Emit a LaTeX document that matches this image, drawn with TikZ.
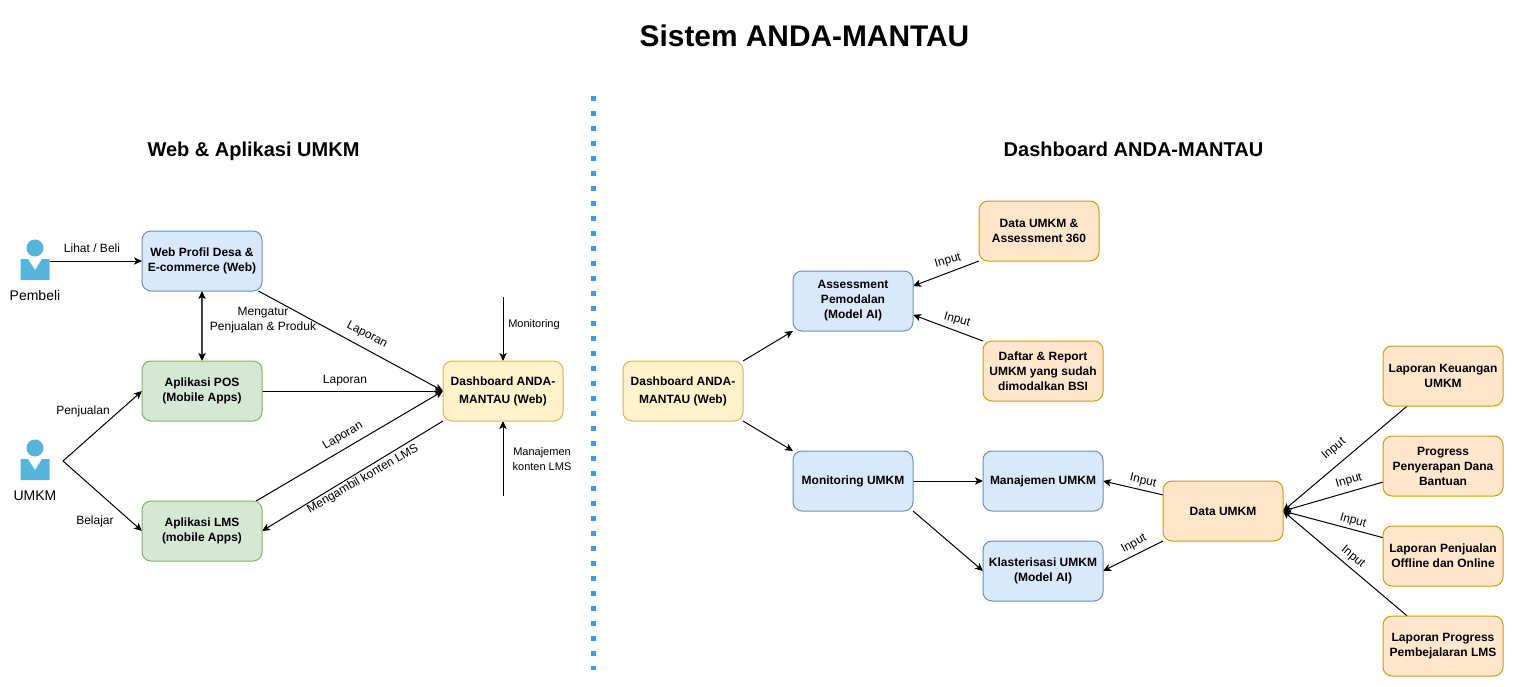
\documentclass[tikz,border=0pt]{standalone}
\usepackage{fontspec}
\setmainfont{Liberation Sans}
\usetikzlibrary{arrows.meta,backgrounds,positioning}

\definecolor{bluefill}{HTML}{DAE8FC}
\definecolor{blueline}{HTML}{6C8EBF}
\definecolor{greenfill}{HTML}{D5E8D4}
\definecolor{greenline}{HTML}{82B366}
\definecolor{yellowfill}{HTML}{FFF2CC}
\definecolor{yellowline}{HTML}{D6B656}
\definecolor{orangefill}{HTML}{FFE6CC}
\definecolor{orangeline}{HTML}{D79B00}
\definecolor{personblue}{HTML}{57B4DA}
\definecolor{dividerblue}{HTML}{3D97F0}

\tikzset{
    box/.style={rectangle, rounded corners=6.75pt, minimum width=90pt, minimum height=45pt,
        inner sep=0pt, outer sep=0pt, align=center, line width=.75pt,
        font=\fontsize{9}{11.25}\selectfont\bfseries},
    webbox/.style={box, draw=blueline, fill=bluefill},
    appbox/.style={box, draw=greenline, fill=greenfill},
    dashbox/.style={box, draw=yellowline, fill=yellowfill,
        execute at begin node=\rule{0pt}{8.8pt}},
    databox/.style={box, draw=orangeline, fill=orangefill},
    conn/.style={line width=.75pt, -{Stealth[length=6pt,width=5.5pt,inset=1.5pt]}},
    biconn/.style={line width=.9pt, black!75,
        {Stealth[length=6pt,width=5.5pt,inset=1.5pt,color=black]}-{Stealth[length=6pt,width=5.5pt,inset=1.5pt,color=black]}},
    lbl/.style={inner sep=0pt, align=center, font=\fontsize{9}{11.25}\selectfont},
    smalllbl/.style={inner sep=0pt, align=center, font=\fontsize{8.25}{11.25}\selectfont},
    bigtitle/.style={inner sep=0pt, anchor=base, font=\fontsize{22.4}{26}\selectfont\bfseries},
    subtitle/.style={inner sep=0pt, anchor=base, font=\fontsize{15}{19}\selectfont\bfseries},
    personlbl/.style={inner sep=0pt, anchor=base, font=\fontsize{10.5}{13}\selectfont},
    person/.pic={
        \fill[personblue] (0,0) circle (6.4pt);
        \fill[personblue] (-14.5,11) -- (-7,11) -- (0,22) -- (7,11) -- (14.5,11)
            -- (14.5,32) -- (-14.5,32) -- cycle;
    }
}

\begin{document}
\begin{tikzpicture}[x=.75pt, y=-.75pt]
    \useasboundingbox (0,0) rectangle (1514,686);

    % titles
    \node[bigtitle] (title) at (804.5,46) {Sistem ANDA-MANTAU};
    \node[subtitle] (titleleft) at (253.5,156) {Web \& Aplikasi UMKM};
    \node[subtitle] (titleright) at (1133.5,156) {Dashboard ANDA-MANTAU};

    % divider
    \coordinate (divtop) at (593,96);
    \coordinate (divbottom) at (593,670);
    \draw[dividerblue, line width=3.75pt, dash pattern=on 3.75pt off 7.5pt] (divtop) -- (divbottom);

    % left side
    \node[webbox] (web) at (202,261) {Web Profil Desa \&\\E-commerce (Web)};
    \node[appbox] (pos) [below=52.5pt of web] {Aplikasi POS\\(Mobile Apps)};
    \node[appbox] (lms) [below=60pt of pos] {Aplikasi LMS\\(mobile Apps)};
    \node[dashbox] (dashleft) at (503,391) {Dashboard ANDA-\\[2.25pt]MANTAU (Web)};

    \pic at (35,248) {person};
    \pic at (35,448) {person};
    \node[personlbl] (pembeli) at (35,300) {Pembeli};
    \node[personlbl] (umkm) at (35,500) {UMKM};
    \coordinate (pembeliout) at (50,261);
    \coordinate (umkmout) at (63,461);
    \coordinate (monitorin) at (503,297);
    \coordinate (kontenin) at (503,496);

    \begin{scope}[on background layer]
        \draw[conn] (pembeliout) -- (web.west);
        \draw[biconn] (web.south) -- (pos.north);
        \draw[conn] (umkmout) -- (pos.west);
        \draw[conn] (umkmout) -- (lms.west);
        \draw[conn] (web.-28) -- (dashleft.west);
        \draw[conn] (pos.east) -- (dashleft.west);
        \draw[conn] (lms.29) -- (dashleft.west);
        \draw[conn] (dashleft.south west) -- (lms.east);
        \draw[conn] (monitorin) -- (dashleft.north);
        \draw[conn] (kontenin) -- (dashleft.south);
    \end{scope}

    \node[lbl] (lblbeli) at (92,248) {Lihat / Beli};
    \node[lbl] (lblatur) at (263,320) {Mengatur\\Penjualan \& Produk};
    \node[lbl] (lbljual) at (83,411) {Penjualan};
    \node[lbl] (lblajar) at (95,521) {Belajar};
    \node[lbl, rotate=-28] (lbllapweb) at (367,335) {Laporan};
    \node[lbl] (lbllappos) at (345,381) {Laporan};
    \node[lbl, rotate=30] (lbllaplms) at (343,436) {Laporan};
    \node[lbl, rotate=30] (lblambil) at (363,479) {Mengambil konten LMS};
    \node[smalllbl] (lblmonitor) at (534,325) {Monitoring};
    \node[smalllbl] (lblkonten) at (542,459) {Manajemen\\konten LMS};

    % right side
    \node[dashbox] (dashright) at (683,391) {Dashboard ANDA-\\[2.25pt]MANTAU (Web)};
    \node[webbox] (assess) at (853,301) {Assessment\\Pemodalan\\(Model AI)};
    \node[webbox] (monitor) at (853,481) {Monitoring UMKM};
    \node[databox] (data360) at (1039,231) {Data UMKM \&\\Assessment 360};
    \node[databox] (daftar) at (1043,371) {Daftar \& Report\\UMKM yang sudah\\dimodalkan BSI};
    \node[webbox] (manajemen) [right=52.5pt of monitor] {Manajemen UMKM};
    \node[webbox] (klaster) [below=22.5pt of manajemen] {Klasterisasi UMKM\\(Model AI)};
    \node[databox] (data) at (1223,511) {Data UMKM};
    \node[databox] (keuangan) at (1443,376) {Laporan Keuangan\\UMKM};
    \node[databox] (progress) [below=22.5pt of keuangan] {Progress\\Penyerapan Dana\\Bantuan};
    \node[databox] (penjualan) [below=22.5pt of progress] {Laporan Penjualan\\Offline dan Online};
    \node[databox] (belajar) [below=22.5pt of penjualan] {Laporan Progress\\Pembejalaran LMS};

    \begin{scope}[on background layer]
        \draw[conn] (dashright.north east) -- (assess.south west);
        \draw[conn] (dashright.south east) -- (monitor.north west);
        \draw[conn] (data360.south west) -- (assess.14);
        \draw[conn] (daftar.north west) -- (assess.-13);
        \draw[conn] (monitor.east) -- (manajemen.west);
        \draw[conn] (monitor.south east) -- (klaster.west);
        \draw[conn] (data.165) -- (manajemen.east);
        \draw[conn] (data.south west) -- (klaster.east);
        \draw[conn] (keuangan.220) -- (data.east);
        \draw[conn] (progress.195) -- (data.east);
        \draw[conn] (penjualan.163) -- (data.east);
        \draw[conn] (belajar.140) -- (data.east);
    \end{scope}

    \node[lbl, rotate=16] (lblin1) at (948,261) {Input};
    \node[lbl, rotate=-16] (lblin2) at (957,320) {Input};
    \node[lbl, rotate=-13] (lblin3) at (1143,481) {Input};
    \node[lbl, rotate=28] (lblin4) at (1134,544) {Input};
    \node[lbl, rotate=40] (lblin5) at (1334,449) {Input};
    \node[lbl, rotate=16] (lblin6) at (1349,481) {Input};
    \node[lbl, rotate=-16] (lblin7) at (1353,521) {Input};
    \node[lbl, rotate=-40] (lblin8) at (1353,557) {Input};
\end{tikzpicture}
\end{document}
